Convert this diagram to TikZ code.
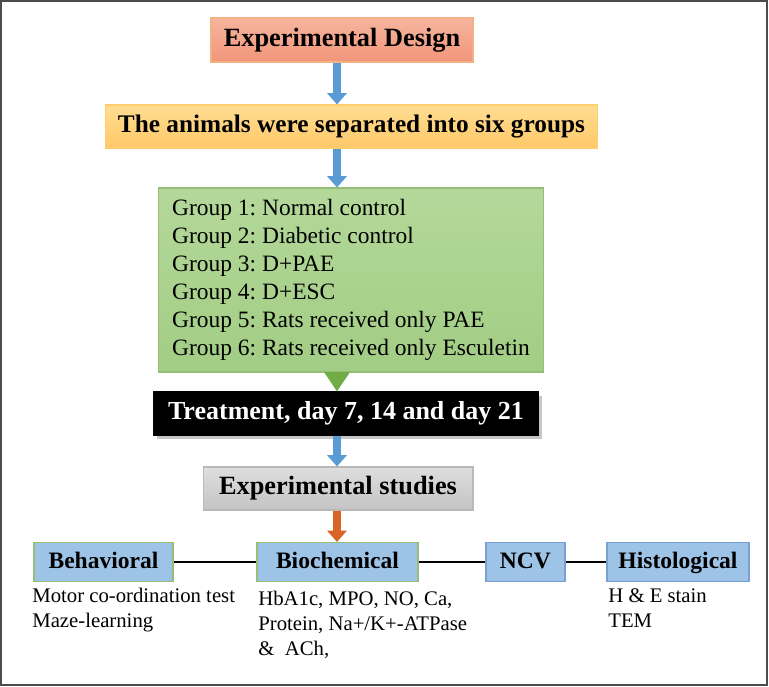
\documentclass[tikz,border=0pt]{standalone}
\usepackage{fontspec}
\setmainfont{Liberation Serif}
\usetikzlibrary{arrows.meta,shadows}
\frenchspacing
\definecolor{salmontop}{RGB}{247,180,158}
\definecolor{salmonbot}{RGB}{241,150,122}
\definecolor{salmonline}{RGB}{244,177,131}
\definecolor{yellowtop}{RGB}{255,222,145}
\definecolor{yellowbot}{RGB}{255,200,105}
\definecolor{yellowline}{RGB}{255,205,110}
\definecolor{greentop}{RGB}{180,216,154}
\definecolor{greenbot}{RGB}{162,205,132}
\definecolor{greenline}{RGB}{150,190,120}
\definecolor{graytop}{RGB}{222,222,222}
\definecolor{graybot}{RGB}{196,196,196}
\definecolor{boxblue}{RGB}{157,195,230}
\definecolor{boxblueline}{RGB}{120,160,210}
\definecolor{arrowblue}{RGB}{91,155,213}
\definecolor{arroworange}{RGB}{217,100,40}
\definecolor{trigreen}{RGB}{112,173,71}
\begin{document}
\begin{tikzpicture}[x=0.02cm, y=-0.02cm,
  box/.style={draw, line width=0.6pt, inner sep=0pt, minimum height=0.86cm,
    font=\fontsize{15}{18}\selectfont\bfseries},
  subbox/.style={draw=boxblueline, line width=0.6pt, fill=boxblue, inner sep=0pt,
    minimum height=0.78cm, text height=9.6pt, text depth=2.6pt,
    font=\fontsize{13.4}{16}\selectfont\bfseries},
  note/.style={anchor=north west, align=left, inner sep=0pt,
    font=\fontsize{11.8}{14.2}\selectfont},
  flow/.style={line width=5pt, draw=arrowblue, -{Triangle[width=11pt,length=6.5pt]}},
  link/.style={line width=1.2pt}]
\useasboundingbox (0,0) rectangle (769,687);
\draw[gray!60!black, line width=1.2pt] (1,1) rectangle (767,685);
\coordinate (col) at (337,0);
% main column
\node[box, draw=salmonline, top color=salmontop, bottom color=salmonbot,
  minimum width=5.24cm, minimum height=0.88cm] (design) at (342,40) {Experimental Design};
\node[box, draw=yellowline, top color=yellowtop, bottom color=yellowbot,
  minimum width=9.86cm, font=\fontsize{14.4}{18}\selectfont\bfseries] (animals) at (351.5,126.5)
  {The animals were separated into six groups};
\node[box, draw=greenline, top color=greentop, bottom color=greenbot,
  minimum width=7.72cm, minimum height=3.68cm, align=left,
  font=\fontsize{13.35}{16}\selectfont] (groups) at (351,280)
  {Group 1: Normal control\\ Group 2: Diabetic control\\ Group 3: D+PAE\\
   Group 4: D+ESC\\ Group 5: Rats received only PAE\\ Group 6: Rats received only Esculetin};
\node[box, draw=black, fill=black, text=white, minimum width=7.72cm,
  font=\fontsize{14.8}{18}\selectfont\bfseries,
  drop shadow={shadow xshift=2pt, shadow yshift=-2pt, opacity=0.45}] (treat) at (346,413.5)
  {Treatment, day 7, 14 and day 21};
\node[box, draw=gray!55, top color=graytop, bottom color=graybot,
  minimum width=5.4cm] (studies) at (338,488.5) {Experimental studies};
% studies row
\node[subbox, draw=greenline, minimum width=2.78cm] (behav) at (103.5,562) {Behavioral};
\node[subbox, draw=greenline, minimum width=3.22cm] (bio) at (337.5,562) {Biochemical};
\node[subbox, minimum width=1.58cm] (ncv) at (525.5,562) {NCV};
\node[subbox, minimum width=2.84cm] (histo) at (678,562) {Histological};
% arrows
\draw[flow] (design.south -| col) -- (animals.north -| col);
\draw[flow] (animals.south -| col) -- (groups.north -| col);
\fill[trigreen] (groups.south -| col) ++(-13,-0.5) -- ++(26,0) -- (treat.north -| col) -- cycle;
\draw[flow] (treat.south -| col) -- (studies.north -| col);
\draw[flow, draw=arroworange] (studies.south -| col) -- (bio.north -| col);
\draw[link] (behav) -- (bio);
\draw[link] (bio) -- (ncv);
\draw[link] (ncv) -- (histo);
% details
\node[note] (behavtext) at (32,588) {Motor co-ordination test\\ Maze-learning};
\node[note] (biotext) at (258,591) {HbA1c, MPO, NO, Ca,\\ Protein, Na+/K+-ATPase\\ \&~ ACh,};
\node[note] (histotext) at (608,588) {H \& E stain\\ TEM};
\end{tikzpicture}
\end{document}
